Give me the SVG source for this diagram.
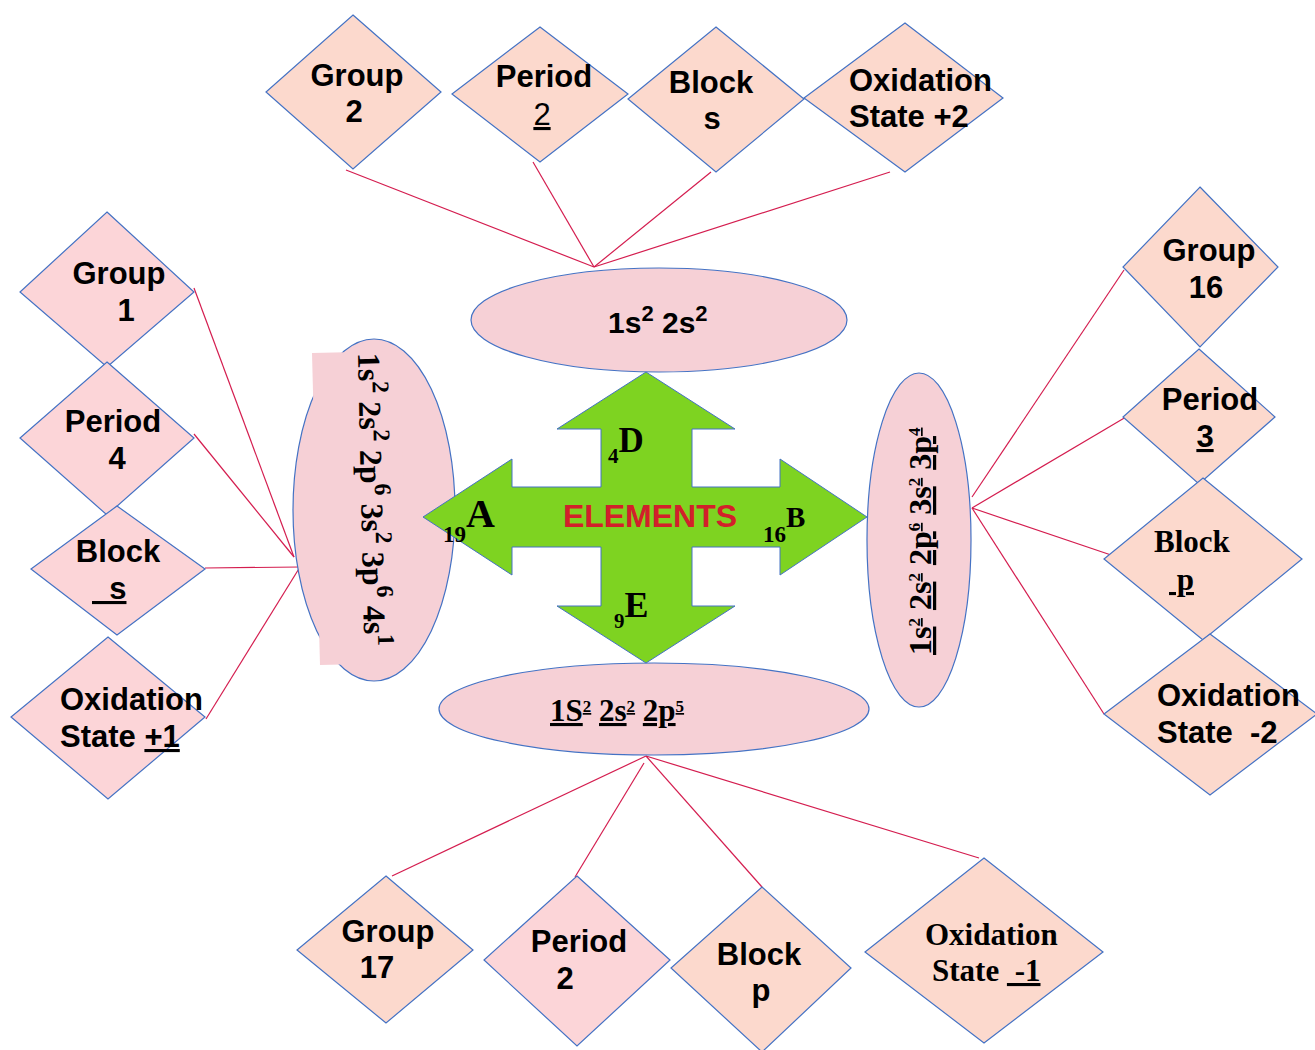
<svg xmlns="http://www.w3.org/2000/svg" width="1315" height="1050" viewBox="0 0 1315 1050">
<style>
.dia{stroke:#4472c4;stroke-width:1.2}
.peach{fill:#fcd9cd}
.pink{fill:#fcd5d8}
.ell{fill:#f6d0d6;stroke:#4472c4;stroke-width:1.2}
.lbl{font-family:"Liberation Sans",Arial,sans-serif;font-weight:bold;font-size:31px;fill:#000}
.ser{font-family:"Liberation Serif","Times New Roman",serif;font-weight:bold;fill:#000}
.reg{font-weight:normal}
.u{text-decoration:underline}
.mid{text-anchor:middle}
.conn line{stroke:#d41d4f;stroke-width:1.2}
</style>
<rect width="1315" height="1050" fill="#ffffff"/>

<g id="connectors" class="conn">
  <line x1="346" y1="170" x2="594" y2="267"/>
  <line x1="533" y1="162" x2="594" y2="267"/>
  <line x1="711" y1="172" x2="594" y2="267"/>
  <line x1="890" y1="172" x2="594" y2="267"/>
  <line x1="194" y1="288" x2="294" y2="557"/>
  <line x1="194" y1="434" x2="294" y2="557"/>
  <line x1="205" y1="568" x2="300" y2="567"/>
  <line x1="206" y1="719" x2="300" y2="567"/>
  <line x1="1124" y1="270" x2="972" y2="497"/>
  <line x1="1126" y1="417" x2="972" y2="508"/>
  <line x1="1114" y1="556" x2="972" y2="508"/>
  <line x1="1104" y1="714" x2="972" y2="508"/>
  <line x1="392" y1="876" x2="646" y2="756"/>
  <line x1="575" y1="877" x2="644" y2="763"/>
  <line x1="762" y1="887" x2="646" y2="756"/>
  <line x1="979" y1="858" x2="646" y2="756"/>
</g>

<g id="top-group2">
  <polygon class="dia peach" points="353,15 441,92 353,169 266,92"/>
  <text class="lbl mid" x="357" y="86">Group</text>
  <text class="lbl mid" x="354" y="122">2</text>
</g>
<g id="top-period2">
  <polygon class="dia peach" points="540,27 628,94 540,162 452,94"/>
  <text class="lbl mid" x="544" y="87">Period</text>
  <text class="lbl mid reg u" x="542" y="125">2</text>
</g>
<g id="top-blocks">
  <polygon class="dia peach" points="716,27 804,99 716,172 628,99"/>
  <text class="lbl mid" x="711" y="93">Block</text>
  <text class="lbl mid" x="712" y="129">s</text>
</g>
<g id="top-ox2">
  <polygon class="dia peach" points="905,23 1003,98 905,172 804,98"/>
  <text class="lbl" x="849" y="91">Oxidation</text>
  <text class="lbl" x="849" y="127">State +2</text>
</g>

<g id="left-group1">
  <polygon class="dia pink" points="107,212 194,292 107,367 20,292"/>
  <text class="lbl mid" x="119" y="284">Group</text>
  <text class="lbl mid" x="126" y="321">1</text>
</g>
<g id="left-period4">
  <polygon class="dia pink" points="107,362 194,438 107,515 20,438"/>
  <text class="lbl mid" x="113" y="432">Period</text>
  <text class="lbl mid" x="117" y="469">4</text>
</g>
<g id="left-blocks">
  <polygon class="dia pink" points="117,506 205,569 117,635 31,569"/>
  <text class="lbl mid" x="118" y="562">Block</text>
  <text class="lbl u" x="92" y="599">&#160;&#160;s</text>
</g>
<g id="left-ox1">
  <polygon class="dia pink" points="108,637 205,717 108,799 11,717"/>
  <text class="lbl" x="60" y="710">Oxidation</text>
  <text class="lbl" x="60" y="747">State <tspan class="u">+1</tspan></text>
</g>

<g id="right-group16">
  <polygon class="dia peach" points="1200,187 1278,267 1200,347 1123,267"/>
  <text class="lbl mid" x="1209" y="261">Group</text>
  <text class="lbl mid" x="1206" y="298">16</text>
</g>
<g id="right-period3">
  <polygon class="dia peach" points="1199,349 1275,417 1199,484 1123,417"/>
  <text class="lbl mid" x="1210" y="410">Period</text>
  <text class="lbl mid u" x="1205" y="447">3</text>
</g>
<g id="right-blockp">
  <polygon class="dia peach" points="1203,478 1302,559 1203,640 1104,559"/>
  <text class="ser" font-size="31" x="1154" y="552">Block</text>
  <text class="ser u" font-size="31" x="1169" y="590">&#160;p</text>
</g>
<g id="right-ox-2">
  <polygon class="dia peach" points="1210,634 1317,714 1210,795 1104,714"/>
  <text class="lbl" x="1157" y="706">Oxidation</text>
  <text class="lbl" x="1157" y="743">State&#160; -2</text>
</g>

<g id="bottom-group17">
  <polygon class="dia peach" points="386,876 473,950 386,1023 297,950"/>
  <text class="lbl mid" x="388" y="942">Group</text>
  <text class="lbl mid" x="377" y="978">17</text>
</g>
<g id="bottom-period2">
  <polygon class="dia pink" points="577,876 670,960 577,1046 484,960"/>
  <text class="lbl mid" x="579" y="952">Period</text>
  <text class="lbl mid" x="565" y="989">2</text>
</g>
<g id="bottom-blockp">
  <polygon class="dia peach" points="762,887 851,968 762,1052 671,968"/>
  <text class="lbl mid" x="759" y="965">Block</text>
  <text class="lbl mid" x="761" y="1001">p</text>
</g>
<g id="bottom-ox-1">
  <polygon class="dia peach" points="984,858 1103,952 984,1043 865,952"/>
  <text class="ser" font-size="31" x="925" y="945">Oxidation</text>
  <text class="ser" font-size="31" x="932" y="981">State&#160;<tspan class="u">&#160;-1</tspan></text>
</g>

<g id="ellipse-top">
  <ellipse class="ell" cx="659" cy="320" rx="188" ry="52"/>
  <text class="lbl" x="608" y="333" style="font-size:30px">1s<tspan style="font-size:22px" dy="-12">2</tspan><tspan dy="12">&#160;2s</tspan><tspan style="font-size:22px" dy="-12">2</tspan></text>
</g>

<g id="ellipse-left">
  <ellipse class="ell" cx="374" cy="510" rx="81" ry="171"/>
  <polygon fill="#f6d0d6" points="312,353 400,351 408,663 320,665"/>
  <text class="ser" font-size="32" transform="translate(358,353) rotate(88.8)">1s<tspan font-size="24" dy="-14">2</tspan><tspan dy="14">&#160;2s</tspan><tspan font-size="24" dy="-14">2</tspan><tspan dy="14">&#160;2p</tspan><tspan font-size="24" dy="-14">6</tspan><tspan dy="14">&#160;3s</tspan><tspan font-size="24" dy="-14">2</tspan><tspan dy="14">&#160;3p</tspan><tspan font-size="24" dy="-14">6</tspan><tspan dy="14">&#160;4s</tspan><tspan font-size="24" dy="-14">1</tspan></text>
</g>

<g id="ellipse-right">
  <ellipse class="ell" cx="919" cy="540" rx="52" ry="167"/>
  <text class="ser" font-size="32" transform="translate(931,655) rotate(-90)"><tspan class="u">1s</tspan><tspan class="u" font-size="17" dy="-11">2</tspan><tspan dy="11">&#160;</tspan><tspan class="u">2s</tspan><tspan class="u" font-size="17" dy="-11">2</tspan><tspan dy="11">&#160;</tspan><tspan class="u">2p</tspan><tspan class="u" font-size="17" dy="-11">6</tspan><tspan dy="11">&#160;</tspan><tspan class="u">3s</tspan><tspan class="u" font-size="17" dy="-11">2</tspan><tspan dy="11">&#160;</tspan><tspan class="u">3p</tspan><tspan class="u" font-size="17" dy="-11">4</tspan></text>
</g>

<g id="ellipse-bottom">
  <ellipse class="ell" cx="654" cy="709" rx="215" ry="46"/>
  <text class="ser" font-size="31" x="550" y="721"><tspan class="u">1S</tspan><tspan class="u" font-size="17" dy="-9">2</tspan><tspan dy="9">&#160;</tspan><tspan class="u">2s</tspan><tspan class="u" font-size="17" dy="-9">2</tspan><tspan dy="9">&#160;</tspan><tspan class="u">2p</tspan><tspan class="u" font-size="17" dy="-9">5</tspan></text>
</g>

<g id="center-elements">
  <polygon fill="#7ed321" stroke="#4472c4" stroke-width="1" points="646,372 735,429 692,429 692,487 780,487 780,459 867,517 780,575 780,547 692,547 692,606 735,606 646,663 557,606 601,606 601,547 512,547 512,575 423,517 512,459 512,487 601,487 601,429 557,429"/>
  <text class="lbl mid" x="650" y="527" style="fill:#d2202a;font-size:32px">ELEMENTS</text>
  <text class="ser" x="443" y="542" font-size="23">19<tspan font-size="40" dy="-15">A</tspan></text>
  <text class="ser" x="608" y="463" font-size="21">4<tspan font-size="35" dy="-11">D</tspan></text>
  <text class="ser" x="763" y="542" font-size="23">16<tspan font-size="29" dy="-15">B</tspan></text>
  <text class="ser" x="614" y="628" font-size="21">9<tspan font-size="36" dy="-11">E</tspan></text>
</g>
</svg>
